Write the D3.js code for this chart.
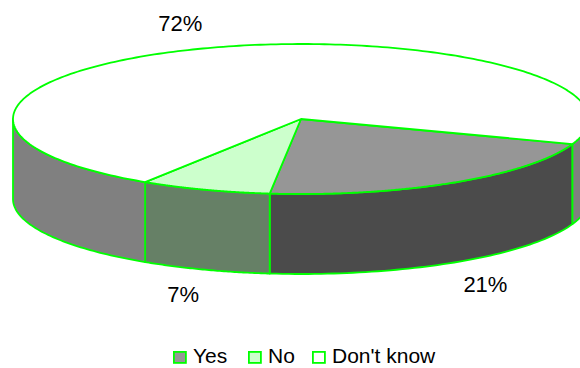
<!DOCTYPE html>
<html>
<head>
<meta charset="utf-8">
<script src="https://cdn.jsdelivr.net/npm/d3@7/dist/d3.min.js"></script>
<style>
html,body{margin:0;padding:0;background:#fff;}
svg{display:block;}
text{font-family:"Liberation Sans",Arial,sans-serif;fill:#000;}
</style>
</head>
<body>
<svg id="chart" width="580" height="368"></svg>
<script>
const categories = ["Yes", "No", "Don't know"];
const values = [21.4, 7.4, 71.6];
const labels = ["21%", "7%", "72%"];
const topColors = ["#969696", "#ccffcc", "#ffffff"];
const sideColors = ["#4b4b4b", "#668066", "#808080"];

const W = 580, H = 368;
const cx = 301, cy = 119, rx = 288, ry = 75, depth = 80;
const stroke = "#00ff00", sw = 1.8;
const startDeg = 19.5; // screen angle (clockwise from +x) where first slice begins

const svg = d3.select("#chart");
const toRad = d => d * Math.PI / 180;

const pie = d3.pie().sort(null).value(d => d.v)
  .startAngle(toRad(startDeg) + Math.PI / 2)
  .endAngle(toRad(startDeg) + Math.PI / 2 + 2 * Math.PI);
const data = categories.map((c, i) => ({c, v: values[i], i}));
const arcs = pie(data).map(a => ({
  ...a,
  t0: a.startAngle - Math.PI / 2,
  t1: a.endAngle - Math.PI / 2
}));

const px = t => cx + rx * Math.cos(t);
const py = (t, dz = 0) => cy + ry * Math.sin(t) + dz;

// side walls (front half only)
const walls = [];
arcs.forEach(a => {
  [[0, Math.PI], [2 * Math.PI, 3 * Math.PI], [-2 * Math.PI, -Math.PI]].forEach(([lo, hi]) => {
    const s = Math.max(a.t0, lo), e = Math.min(a.t1, hi);
    if (e > s + 1e-6) walls.push({i: a.data.i, s, e});
  });
});
svg.append("g").selectAll("path").data(walls).join("path")
  .attr("d", w => {
    const p = d3.path();
    p.moveTo(px(w.s), py(w.s));
    const n = 60;
    for (let k = 1; k <= n; k++) { const t = w.s + (w.e - w.s) * k / n; p.lineTo(px(t), py(t)); }
    p.lineTo(px(w.e), py(w.e, depth));
    for (let k = n - 1; k >= 0; k--) { const t = w.s + (w.e - w.s) * k / n; p.lineTo(px(t), py(t, depth)); }
    p.closePath();
    return p.toString();
  })
  .attr("fill", w => sideColors[w.i])
  .attr("stroke", stroke).attr("stroke-width", sw).attr("stroke-linejoin", "round");

// top faces
svg.append("g").selectAll("path").data(arcs).join("path")
  .attr("d", a => {
    const p = d3.path();
    p.moveTo(cx, cy);
    const n = 240;
    for (let k = 0; k <= n; k++) { const t = a.t0 + (a.t1 - a.t0) * k / n; p.lineTo(px(t), py(t)); }
    p.closePath();
    return p.toString();
  })
  .attr("fill", a => topColors[a.data.i])
  .attr("stroke", stroke).attr("stroke-width", sw).attr("stroke-linejoin", "round");

// data labels
const kx = 1.06, ky = 1.35;
svg.append("g").selectAll("text").data(arcs).join("text")
  .attr("x", a => { const m = (a.t0 + a.t1) / 2; const c = Math.cos(m); return cx + rx * kx * c + (c < 0 ? 0 : 0); })
  .attr("y", a => { const m = (a.t0 + a.t1) / 2; const s = Math.sin(m); return cy + ry * ky * s + (s > 0 ? depth : 0); })
  .attr("dy", "0.35em")
  .attr("text-anchor", a => Math.cos((a.t0 + a.t1) / 2) < 0 ? "end" : "start")
  .style("font-size", "22px")
  .text(a => labels[a.data.i]);

// legend
const legendX = [173, 248, 312];
const lg = svg.append("g").selectAll("g").data(categories).join("g")
  .attr("transform", (d, i) => `translate(${legendX[i]},351)`);
lg.append("rect").attr("x", 0.9).attr("y", 0.9).attr("width", 12).attr("height", 11)
  .attr("fill", (d, i) => topColors[i]).attr("stroke", stroke).attr("stroke-width", sw);
lg.append("text").attr("x", 20).attr("y", 12).style("font-size", "21px").text(d => d);
</script>
</body>
</html>
